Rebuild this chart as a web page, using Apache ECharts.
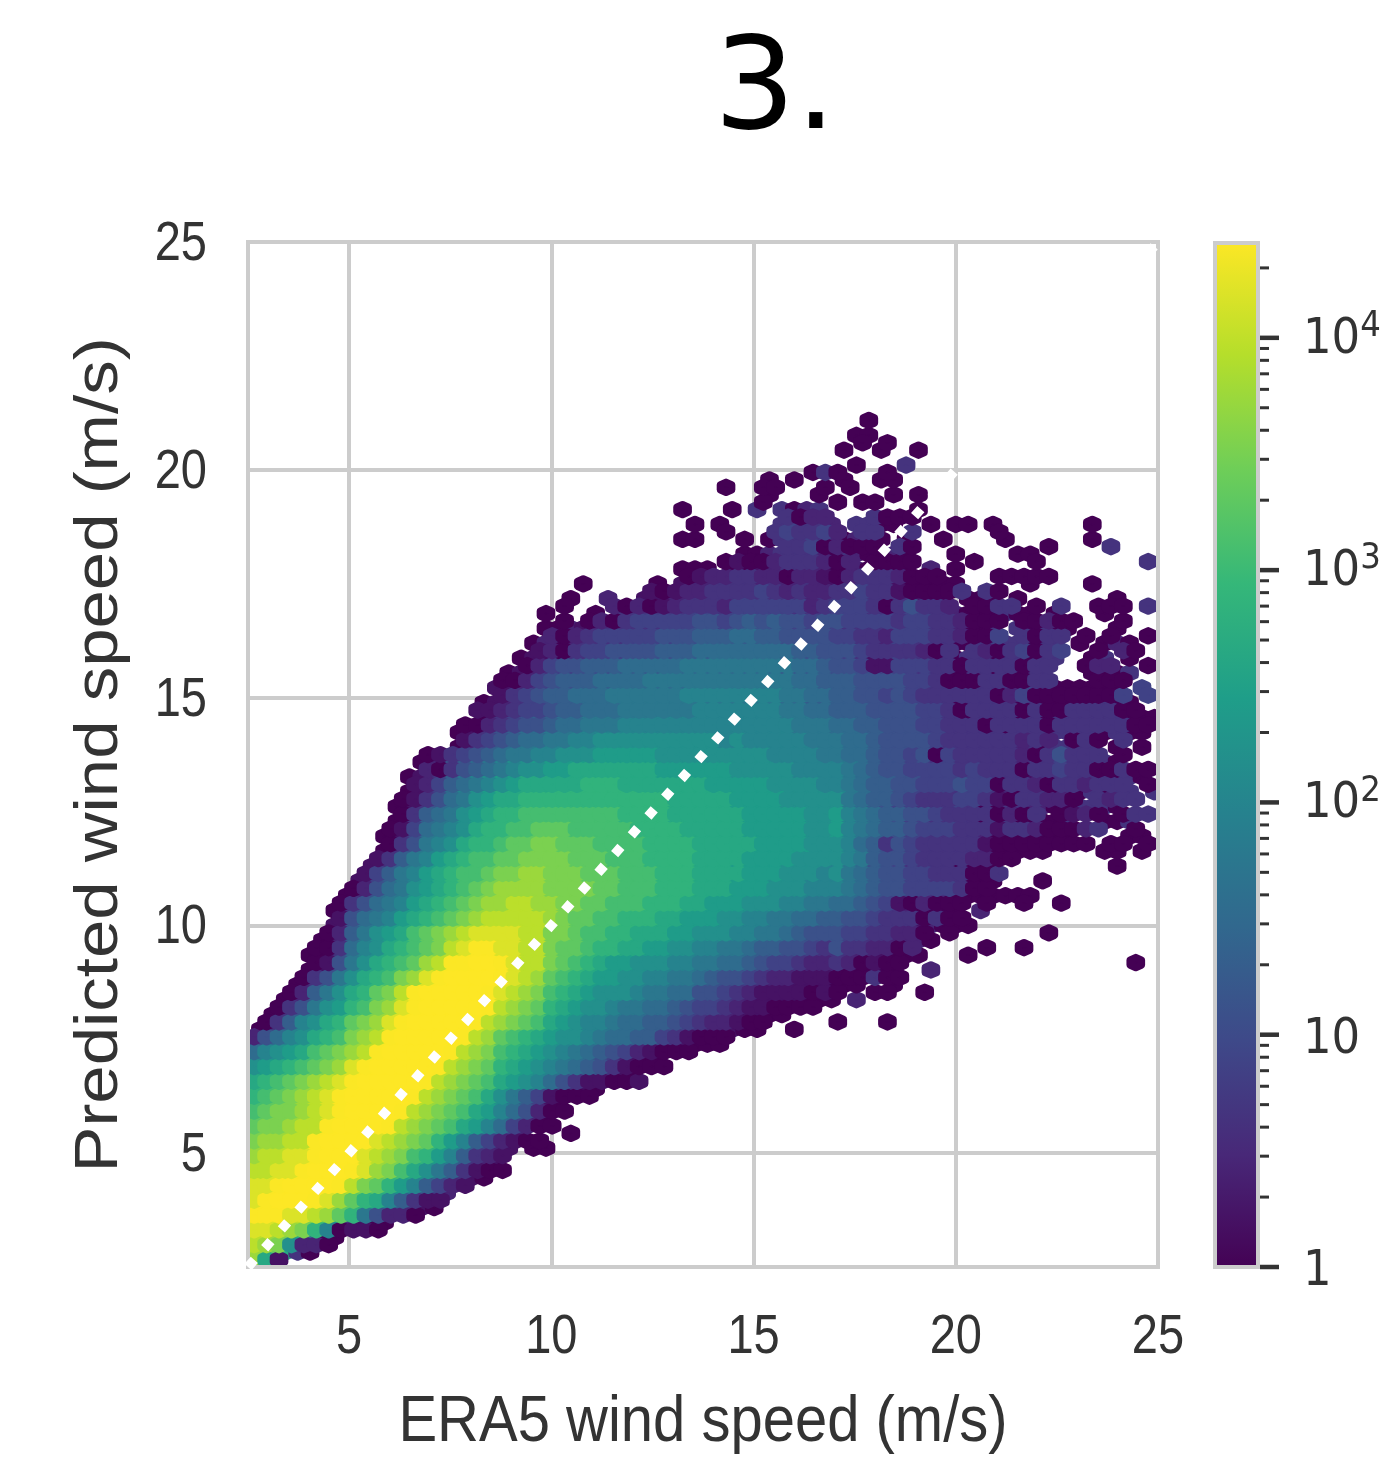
<!DOCTYPE html>
<html><head><meta charset="utf-8">
<style>html,body{margin:0;padding:0;background:#fff}#c{width:1386px;height:1463px}</style>
<script src="https://cdn.jsdelivr.net/npm/echarts@6/dist/echarts.min.js"></script>
</head><body><div id="c"></div>
<script>
const titleText = '3.';
const xAxisName = 'ERA5 wind speed (m/s)';
const yAxisName = 'Predicted wind speed (m/s)';
const axisTickValues = [5, 10, 15, 20, 25];
const colorbarMajorTicks = [1, 10, 100, 1000, 10000];
const colorbarMinorTicks = [2,3,4,5,6,7,8,9,20,30,40,50,60,70,80,90,200,300,400,500,600,700,800,900,2000,3000,4000,5000,6000,7000,8000,9000,20000];
const identityLine = [[2.5, 2.5], [25, 25]];
const viridis = ['#440154','#482878','#3e4989','#31688e','#26828e','#1f9e89','#35b779','#6ece58','#b5de2b','#fde725'];
const levelChars = '0123456789abcdefghijklm';
const levelsPerDecade = 4.55;

// [row, first column, levels]  ('.' = empty bin)
const hexRowsEven = [
[0,1,"c0"],[2,0,"ihfc30"],[4,0,"jihgc600"],[6,0,"kkjiigea3100"],[8,0,"jklllkjhfdc96310"],
[10,0,"jjklmmlkigfdb9642"],[12,0,"iijjklmmkjhgeca86310"],[14,0,"hiijjkmmljihgedb96321"],
[16,0,"ghhiiklmmljihgfdb96421"+".00"],[18,0,"fgghiiklmmlkihgfecb9742"+"...0"],[20,0,"efgghijklmmlkihgfecb97520"],
[22,0,"defghijkmmmmlkihgfeca86410"],[24,0,"cdefghijkmmmmlkihgfecba975310"],[26,0,"abcdefghjklmmmlkihgfdcba98765310"],
[28,0,"79abcefghiklmmmlkihge"+"dcba987542100"],[30,0,"2579acdeghiklmmmlkihf"+"edcbaa987766431000"],
[32,1,"0369acdfghjklmmmlkih"+"gfecba99877665432210"+"0..0"],
[34,2,"0358abdeghjklmmmlki"+"hgfdcbaa9887765443211"+"00"],
[36,3,"0268acdfgiklmmmlkj"+"ihgedcbaaa9887755432111"+"1000.2"],
[38,4,"0358acdeghjklmmlk"+"jihfedcbbaa998876554"+"322111"+"000..0"],
[40,5,"0158acdefhikkllk"+"jiigfedcbb"+"aaa9988776"+"544322"+"200000..2"],
[42,5,"00379acdefgijkkj"+"jiigffeddc"+"cbbaa99887"+"665543"+"33221000...0"],
[44,6,"0268abcefghijjj"+"jiiggfeedd"+"cccbbaaa99"+"887655"+"544332220"],
[46,7,"15789bcdefghiiiii"+"hgffeedddccbbbaa9988776"+"655433312000"],
[48,7,"035789bcdefghhiihh"+"ggffeeedddccbbbaaa9988"+"77654320000.2"],
[50,8,"02578abcdefghhhhg"+"gggffeeedddcccbbbaaa999"+"8765544330000000"],
[52,9,"14689bcdeefgghhggg"+"fffeeedddcccbbbaaa99"+"98765544333000...0"],
[54,10,"13689bcdeeffggggf"+"ffeeeddddcccbbbbaaaa"+"98755433330"+"000"+"........."+"0"],
[56,11,"03589acddeffggf"+"fffeeeeddddccccbbbbba"+"a986554433332"+"00000"+"...."+"00.0"],
[58,11,"014789acddeefffe"+"eeeeddddcccccbbbbbaa"+"b987654433332"+"0000000"+"...."+"00"],
[60,12,"03678abcddeeee"+"eeeeddddccccccbbbbbaa"+"b98765443333"+"0"+"33"+"0000"+"3"+".."+"00"+"3"],
[62,12,"013578abccdddddd"+"dddddd"+"ccccc"+"bbbb"+"aaaa"+"a87654433343003322003330"],
[64,13,"01479abcccccdddddddcccccccbbbbbaaaa987655444344320330303033.3"],
[66,13,"013689abbcccccccccccbbbbbbaaaaa99998776655444443331333333030"],
[68,14,"0256789aabbbbbbbbbbaaaaaaaaaa9999988655453433333233433330"],
[70,17,"024678899aaaaaaaaaaaa9999999988776555543333332303333.0.0"],
[72,17,"0135677888"+"99999999999999999"+"888"+"777"+"66"+"555"+"44"+"3333"+"0"+"333"+"33"+"330"+"3"+"00"],
[74,19,"03456677"+"888888"+"9999999999"+"888"+"7"+"7666"+"5555"+"43"+"3033"+"3030"+"333"+"33"+"3000"],
[76,19,"01234566777"+"8888888888888"+"77"+"66"+"666"+"5555"+"4"+"33"+"0"+"333"+"3"+"0"+"3"+"0000"+"0"+"3"+"0"+"0"],
[78,20,"1123455666"+"777777"+"88888888"+"77"+"666"+"5555"+"44"+"333"+"033"+"304"+"300"+"0000"+".4"],
[80,21,"0123445556666"+"777777777"+"6666"+"5555"+"444"+"333"+"0"+"33"+"0"+"3"+"0"+"33"+"..."+"000"+"3"],
[82,22,"0110334445555666"+"77777"+"66"+"555"+"4"+"3"+"1"+"3"+"4"+"33"+"2"+"3"+"0"+"33"+"0"+"33"+"0"+"33"+".."+"0"+"3"+"."+"0"],
[84,23,"0202"+"3333"+"4444"+"55"+"666666"+"55555"+"4"+"33"+"2"+"44"+"333"+"00"+"3"+"4"+"33"+"0"+"33"+".0.020"],
[86,24,"0021233333445545655544343333444332003.30300...0"],
[88,24,"0...0.333333"+"44"+"3"+"44444"+"333"+"444"+"333"+"44"+"33"+"2"+"000"+"3"+"00"+"."+"0"+"..."+"0"],
[90,26,"0..2..1122"+"3333"+"4"+"3333"+"2"+"33"+"44"+"3333"+"1"+"00"+"."+"000"+"."+"0"+"......."+"0"],
[92,27,"0.....0.1"+"22"+"333"+"2"+"3"+"22"+"3"+"2"+"1"+"3333"+"1"+"00000"+"....."+"0"+"...."+"0"],
[94,35,"000.00"+"1"+"2"+"333"+"2"+"00"+"2"+"0000"+"."+"2"+"."+"0"],
[96,40,"00"+"2"+"333"+"2"+"0"+"3"+"2"+"00"+"2"+"0"+"..."+"0"+"...."+"00"],
[98,35,"00...0.0"+"33"+"4"+"3"+"2"+"0"+"2"+"3"+"0"+"."+"0"+".."+"0"+"...."+"0"+"......"+"0"],
[100,36,"0.0...."+"3"+"4"+"33"+"2"+"."+"33"+"00"+".."+"0"+"."+"00"+"."+"0"+"......."+"0"],
[102,35,"0...0.3.3023.......0"],
[104,42,"0...0.....0.0"],[106,42,"0.0...0..00"],[108,49,"0...3"],[110,48,"0..0..0"],[112,49,"00"],[114,50,"0"]
];
const hexRowsOdd = [
[1,0,"hc1"],[3,0,"ihga220"],[5,0,"jjihgd90110"],[7,0,"kkkjjihfd85220"],[9,0,"jklllkjhfdc96311"],
[11,0,"jjklmmlkigfdb96421"],[13,0,"iijjklmmkjhgeca863100"],[15,0,"hiijjkmmljihgedb96321"],
[17,0,"ghhiiklmmljihgfdb9642100"],[19,0,"fgghiiklmmlkihgfecb974200"],[21,0,"efgghijklmmlkihgfecb975200"],
[23,0,"defghijkmmmmlkihgfeca8641000"],[25,0,"cdefghijkmmmmlkihgfec"+"ba975311001"],
[27,0,"abcdefghjklmmmlkihgfd"+"cba9876531000"],[29,0,"79abcefghiklmmmlkihge"+"dcba98765421000"],
[31,0,"2579acdeghiklmmmlkihf"+"edcbaa987766431000"],
[33,1,"0369acdfghjklmmmlkih"+"gfecba998776654322100"+".....0...0"],
[35,2,"0358abdeghjklmmmlki"+"hgfdcbaa98877654432110000"],
[37,3,"0268acdfgiklmmmlkj"+"ihgedcbaaa98877554321111010..00..0"],
[39,4,"0358acdeghjklmmlk"+"jihfedcbbaa998876554322111000300"],
[41,5,"0158acdefhikkllk"+"jiigfedcbbaaa9988776544322320100"+"..................0"],
[43,5,"00379acdefgijkkj"+"jiigffeddccbbaa"+"99887"+"66554"+"3"+"5"+"33"+"22"+"0"+"2"+".....0..0"],
[45,6,"0268abcefghijjj"+"jiiggfeeddccc"+"bbaaa99887"+"655"+"544"+"33"+"22"+"0"+"."+"0"+"......."+"0"],
[47,7,"15789bcdefghiiiii"+"hgffeedddccbbbaa9988776"+"65543330300"],
[49,7,"035789bcdefghhiihh"+"ggffeeedddccbbbaaa9988"+"77654102000.0..0..0"],
[51,8,"02578abcdefghhhhg"+"gggffeeedddcccbbbaaa999876554444300"],
[53,9,"14689bcdeefgghhggg"+"fffeeedddccccbbbaaa9a8765544333003"],
[55,10,"13689bcdeeffggggf"+"ffeeeddddccccbbbbaaa"+"a98655433332200"],
[57,11,"03589acddeffggf"+"ffeeeeddddcccccbbbbaa"+"a97635433333100000000.00.0"],
[59,11,"014789acddeefffe"+"eeeeddddcccccbbbbbaa"+"b987665444333133200023..0"],
[61,12,"03678abcddeeee"+"eeeeddddccccccbbbbbaa"+"b9876655433330203.0120.033"],
[63,12,"013578abccdddddd"+"dddddd"+"ccccc"+"bbbb"+"aaaa"+"a8766543334431033220.3233"],
[65,13,"1246789abcccccddd"+"ccccccc"+"bbbbb"+"aaaa"+"9"+"987665544454403320332333.0"],
[67,14,"20356789aabb"+"ccccccc"+"bbbbbb"+"aaaaa"+"999"+"98765544443433303343300300"],
[69,14,"01345678899aaa"+"bbbbb"+"aaaaaaaaa"+"9999"+"8"+"8776554504333332035333.0"],
[71,17,"13456778899"+"aaaaaaaaaa"+"9a"+"99999"+"88"+"877655554333333232.030.3"],
[73,17,"0023455677888"+"99999999999999"+"888"+"7766555443330"+"333"+"3"+"0"+"333333"+"00"],
[75,18,"112344566777"+"888888"+"9999999"+"8877"+"66655554430"+"3333"+"0"+"3"+"00"+"3333"+"00"],
[77,20,"134566777"+"888888"+"99999999"+"88"+"77"+"665545433333302400000004.4"],
[79,20,"00245666"+"7777"+"888888888888"+"776"+"665555443000330033...000"],
[81,22,"02455666"+"77777"+"888888888"+"776"+"554114443303333033..022..0"],
[83,23,"1203445555666"+"77777777"+"665"+"5543333203.32034034..0.20"],
[85,24,"20234444455566677665555"+"44332444332004.3033.0.0..0"],
[87,25,"0.020"+"3"+"44444"+"55"+"4"+"5"+"6"+"5"+"6"+"55"+"4"+"5"+"54444344332000.00200...0"],
[89,25,"0...20201233"+"32"+"4"+"44444"+"2"+"3"+"4443035332.0033.0.3..000.3"],
[91,32,"101223333432322"+"33433100003.30"],
[93,35,"012233220221"+"023332000"+"...."+"00000"],
[95,38,"010023332"+"02.0000"+"....0....0........3"],
[97,43,"33402000.30"+"..........0....3"],
[99,38,"0...343342.33..3......0"],
[101,43,"3022...3000"],[103,41,"0.....0.00"],[105,38,"0..00...0.0"],[107,45,"030...0"],[111,49,"0.0"]
];

const xMin = 2.5, xMax = 25, yMin = 2.5, yMax = 25;
const binDx = 0.307, binDy = 0.163;
const countMax = 25600;

function buildBins(rows){
  const out = [];
  rows.forEach(function(row){
    const r = row[0], start = row[1], cells = row[2];
    for (let i = 0; i < cells.length; i++){
      const L = levelChars.indexOf(cells[i]);
      if (L < 0) continue;
      const c = start + i + (r % 2 ? 0.5 : 0);
      out.push([xMin + c * binDx, yMin + r * binDy, Math.pow(10, L / levelsPerDecade)]);
    }
  });
  return out;
}
function mix(a, b, f){
  const pa = parseInt(a.slice(1), 16), pb = parseInt(b.slice(1), 16);
  const ch = function(s){ return Math.round(((pa >> s) & 255) * (1 - f) + ((pb >> s) & 255) * f); };
  return 'rgb(' + ch(16) + ',' + ch(8) + ',' + ch(0) + ')';
}
function colorFor(count){
  const t = Math.min(1, Math.log10(count) / Math.log10(countMax)) * (viridis.length - 1);
  const i = Math.min(viridis.length - 2, Math.floor(t));
  return mix(viridis[i], viridis[i + 1], t - i);
}
const hexData = buildBins(hexRowsEven).concat(buildBins(hexRowsOdd));

const chart = echarts.init(document.getElementById('c'), null, {renderer:'canvas', width:1386, height:1463});
const textCol = '#333';
const gridCol = '#cccccc';
const tickFont = '47px "Liberation Sans"';
chart.setOption({
  animation:false,
  backgroundColor:'#fff',
  title:{text:titleText,left:770,top:26,textAlign:'center',textStyle:{fontFamily:'DejaVu Sans',fontSize:128,fontWeight:'normal',color:'#000'}},
  grid:[
    {left:248,top:242,width:910,height:1025,show:true,borderColor:gridCol,borderWidth:4,backgroundColor:'#fff',containLabel:false},
    {left:1215,top:243,width:43,height:1024,show:false,containLabel:false}
  ],
  graphic:[
    {type:'text',x:703,y:1423,z:10,silent:true,scaleY:1.13,style:{text:xAxisName,font:'58px "Liberation Sans"',fill:textCol,align:'center',verticalAlign:'middle'}},
    {type:'text',x:100,y:755,z:10,silent:true,rotation:Math.PI/2,scaleX:1.13,style:{text:yAxisName,font:'61px "Liberation Sans"',fill:textCol,align:'center',verticalAlign:'middle'}}
  ],
  xAxis:[
    {type:'value',gridIndex:0,min:xMin,max:xMax,
     axisLine:{show:false},
     axisTick:{show:false,customValues:axisTickValues},
     axisLabel:{show:false,customValues:axisTickValues},
     splitLine:{show:true,lineStyle:{color:gridCol,width:4}}},
    {type:'value',gridIndex:1,min:0,max:1,show:false}
  ],
  yAxis:[
    {type:'value',gridIndex:0,min:yMin,max:yMax,
     axisLine:{show:false},
     axisTick:{show:false,customValues:axisTickValues},
     axisLabel:{show:false,customValues:axisTickValues},
     splitLine:{show:true,lineStyle:{color:gridCol,width:4}}},
    {type:'log',gridIndex:1,position:'right',min:1,max:countMax,logBase:10,
     axisLine:{show:false},
     axisTick:{show:false,customValues:colorbarMajorTicks},
     splitLine:{show:false},minorTick:{show:false},
     axisLabel:{customValues:colorbarMajorTicks,margin:45,color:textCol,
       formatter:function(v){
         const e = Math.round(Math.log10(v));
         return e < 2 ? '{c|' + Math.round(v) + '}' : '{b|10}{s|' + e + '}';
       },
       rich:{
         c:{fontFamily:'DejaVu Sans Condensed',fontSize:50,color:textCol,padding:[10,0,0,0]},
         b:{fontFamily:'DejaVu Sans Condensed',fontSize:50,color:textCol,padding:[4,0,0,0]},
         s:{fontFamily:'DejaVu Sans Condensed',fontSize:36,color:textCol,verticalAlign:'top',padding:[0,0,22,0]}}}}
  ],
  series:[
    {type:'custom',xAxisIndex:0,yAxisIndex:0,z:3,coordinateSystem:'cartesian2d',data:hexData,silent:true,
     renderItem:function(params,api){
       const p = api.coord([api.value(0),api.value(1)]);
       const s = api.size([binDx,binDy]);
       const hw = s[0]/2*0.9, r = s[1]*2/3, c = colorFor(api.value(2));
       const cs = params.coordSys;
       const el = {type:'polygon',shape:{points:[[p[0]+hw,p[1]-r/2],[p[0]+hw,p[1]+r/2],[p[0],p[1]+r],[p[0]-hw,p[1]+r/2],[p[0]-hw,p[1]-r/2],[p[0],p[1]-r]]},
         style:{fill:c,stroke:c,lineWidth:7.5,lineJoin:'round'}};
       if (p[0] < cs.x + 14 || p[0] > cs.x + cs.width - 14 || p[1] > cs.y + cs.height - 14) {
         el.clipPath = {type:'rect',shape:{x:cs.x+2,y:cs.y+2,width:cs.width-4,height:cs.height-4}};
       }
       return el;
     }},
    {type:'line',xAxisIndex:0,yAxisIndex:0,z:5,data:identityLine,showSymbol:false,silent:true,clip:true,
     lineStyle:{color:'#fff',width:9.5,type:[9.5,15.6],cap:'butt'}},
    {type:'custom',xAxisIndex:0,yAxisIndex:0,z:6,silent:true,clip:false,data:axisTickValues.map(function(v){return [v];}),
     renderItem:function(params,api){
       const p = api.coord([api.value(0),yMin]);
       return {type:'text',x:p[0],y:p[1]+71,scaleY:1.17,style:{text:String(api.value(0)),font:tickFont,fill:textCol,align:'center',verticalAlign:'middle'}};
     }},
    {type:'custom',xAxisIndex:0,yAxisIndex:0,z:6,silent:true,clip:false,data:axisTickValues.map(function(v){return [v];}),
     renderItem:function(params,api){
       const p = api.coord([xMin,api.value(0)]);
       return {type:'text',x:p[0]-41,y:p[1]+3,scaleY:1.17,style:{text:String(api.value(0)),font:tickFont,fill:textCol,align:'right',verticalAlign:'middle'}};
     }},
    {type:'custom',xAxisIndex:1,yAxisIndex:1,z:3,data:[[0,1,1,countMax]],silent:true,
     renderItem:function(params,api){
       const a = api.coord([0,countMax]), b = api.coord([1,1]);
       const stops = viridis.map(function(col,i){return {offset:1-i/(viridis.length-1),color:col};}).reverse();
       return {type:'rect',shape:{x:a[0],y:a[1],width:b[0]-a[0],height:b[1]-a[1]},
         style:{fill:new echarts.graphic.LinearGradient(0,0,0,1,stops),stroke:gridCol,lineWidth:4}};
     }},
    {type:'custom',xAxisIndex:1,yAxisIndex:1,z:4,data:colorbarMinorTicks.map(function(v){return [1,v,11,3];}).concat(colorbarMajorTicks.map(function(v){return [1,v,21,4.5];})),silent:true,
     renderItem:function(params,api){
       const p = api.coord([1,api.value(1)]);
       return {type:'line',shape:{x1:p[0]+2,y1:p[1],x2:p[0]+api.value(2),y2:p[1]},style:{stroke:'#333',lineWidth:api.value(3)}};
     }}
  ]
});
</script></body></html>
